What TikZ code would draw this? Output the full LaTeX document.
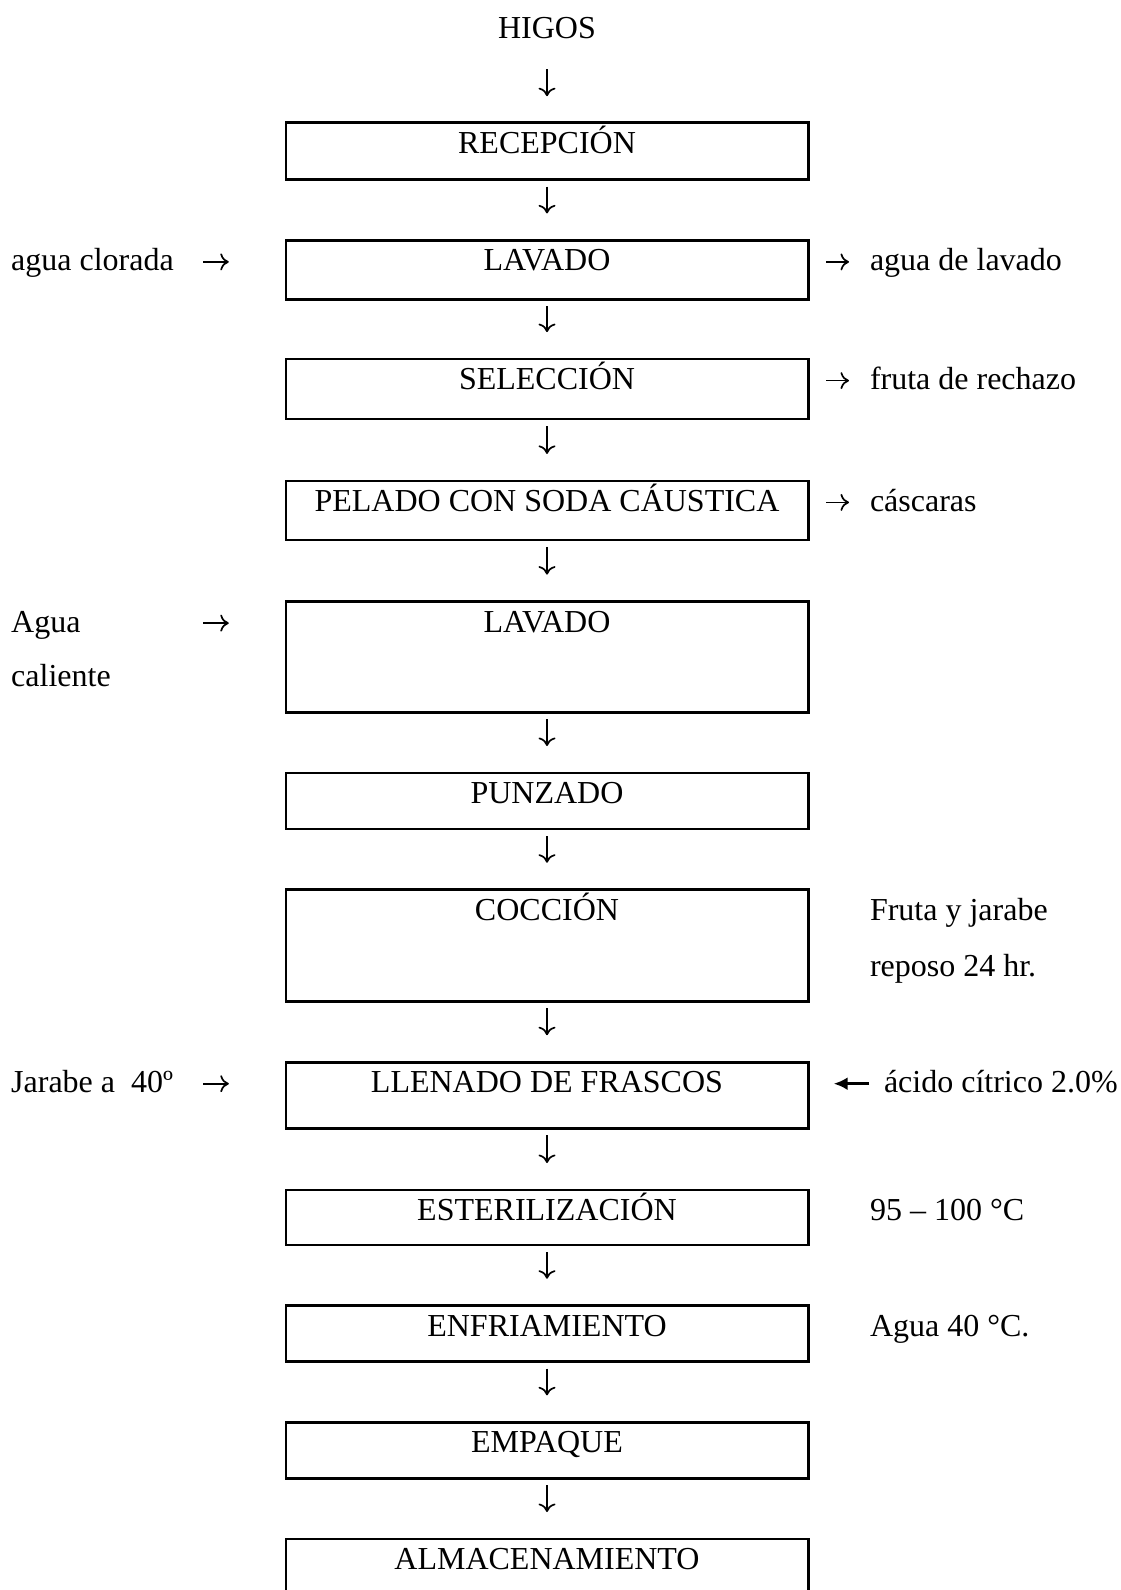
\documentclass[tikz,border=0pt]{standalone}
\usepackage{fontspec}
\setmainfont{Liberation Serif}
\usetikzlibrary{arrows.meta}
\begin{document}
\begin{tikzpicture}[x=1pt,y=-1pt,
  every node/.style={font=\fontsize{32}{38}\selectfont, inner sep=0pt, outer sep=0pt},
  box/.style={draw, line width=2.6pt, minimum width=522.4pt, text height=30.5pt, text depth=#1, anchor=north},
  lbl/.style={anchor=base west},
  arr/.style={line width=1.7pt, -{Computer Modern Rightarrow[length=8.5pt,width=17pt]}},
  down/.style={arr, shorten <=7pt, shorten >=27pt},
  inarr/.style={arr, shorten >=57pt},
  outarr/.style={arr, shorten <=18pt},
  boldarr/.style={line width=3pt, -{Latex[length=14pt,width=13pt]}, shorten >=25.5pt}]
\clip (0,0) rectangle (1121,1590);
\fill[white] (0,0) rectangle (1121,1590);

% main column
\node[anchor=base] (higos) at (547,38.9) {HIGOS};
\node[box=26.5pt] (b1) at (547,122.7) {RECEPCIÓN};
\node[box=28.5pt] (b2) at (547,240.4) {LAVADO};
\node[box=29.5pt] (b3) at (547,359.1) {SELECCIÓN};
\node[box=28.5pt] (b4) at (547,480.9) {PELADO CON SODA CÁUSTICA};
\node[box=80.1pt] (b5) at (547,601.6) {LAVADO};
\node[box=25.5pt] (b6) at (547,773.0) {PUNZADO};
\node[box=81.1pt] (b7) at (547,889.7) {COCCIÓN};
\node[box=35.5pt] (b8) at (547,1062.2) {LLENADO DE FRASCOS};
\node[box=24.5pt] (b9) at (547,1190.0) {ESTERILIZACIÓN};
\node[box=25.5pt] (b10) at (547,1305.7) {ENFRIAMIENTO};
\node[box=25.5pt] (b11) at (547,1422.3) {EMPAQUE};
\node[box=59.5pt] (b12) at (547,1539.0) {ALMACENAMIENTO};

% down arrows
\draw[arr, shorten <=30pt, shorten >=26.5pt] (higos) -- (b1);
\draw[down] (b1) -- (b2);
\draw[down] (b2) -- (b3);
\draw[down] (b3) -- (b4);
\draw[down] (b4) -- (b5);
\draw[down] (b5) -- (b6);
\draw[down] (b6) -- (b7);
\draw[down] (b7) -- (b8);
\draw[down] (b8) -- (b9);
\draw[down] (b9) -- (b10);
\draw[down] (b10) -- (b11);
\draw[down] (b11) -- (b12);

% LAVADO inputs/outputs
\node[lbl] (l2) at (11.2,270.9) {agua clorada};
\coordinate (i2) at (203,261.9);
\draw[inarr] (i2) -- (i2 -| b2.west);
\node[lbl] (r2) at (870,270.9) {agua de lavado};
\coordinate (o2) at (849,261.9);
\draw[outarr] (b2.east |- o2) -- (o2);

% SELECCION
\node[lbl] (r3) at (870,389.6) {fruta de rechazo};
\coordinate (o3) at (849,380.6);
\draw[outarr] (b3.east |- o3) -- (o3);

% PELADO
\node[lbl] (r4) at (870,511.4) {cáscaras};
\coordinate (o4) at (849,502.4);
\draw[outarr] (b4.east |- o4) -- (o4);

% LAVADO 2
\node[lbl] (l5a) at (11.2,632.1) {Agua};
\node[lbl] (l5b) at (11.2,686.9) {caliente};
\coordinate (i5) at (203,623.1);
\draw[inarr] (i5) -- (i5 -| b5.west);

% COCCION
\node[lbl] (r7a) at (870,920.2) {Fruta y jarabe};
\node[lbl] (r7b) at (870,976.0) {reposo 24 hr.};

% LLENADO
\node[lbl] (l8) at (11.2,1092.7) {Jarabe a\ \ 40º};
\coordinate (i8) at (203,1083.7);
\draw[inarr] (i8) -- (i8 -| b8.west);
\node[lbl] (r8) at (884,1092.7) {ácido cítrico 2.0\%};
\coordinate (a8) at (869,1083.7);
\draw[boldarr] (a8) -- (a8 -| b8.east);

% ESTERILIZACION, ENFRIAMIENTO
\node[lbl] (r9) at (870,1220.5) {95 – 100 °C};
\node[lbl] (r10) at (870,1336.2) {Agua 40 °C.};
\end{tikzpicture}
\end{document}
